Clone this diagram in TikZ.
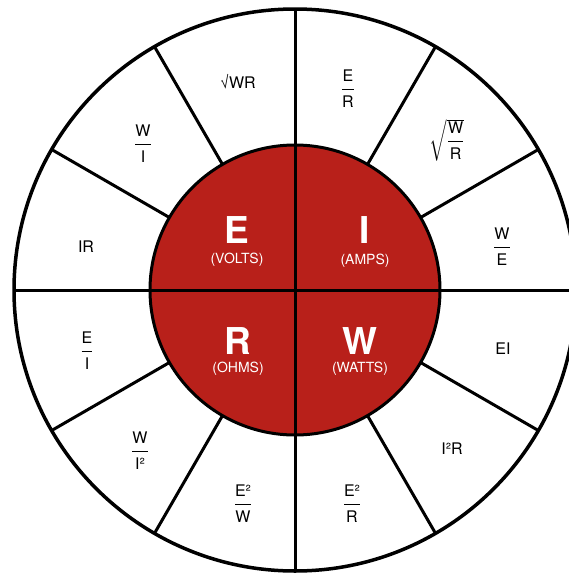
\documentclass[tikz,border=0pt]{standalone}
\usepackage{amsmath}
\usepackage{fontspec}
\usetikzlibrary{calc}
\setmainfont{TeX Gyre Heros}
\definecolor{ohmred}{RGB}{184,32,26}
\newcommand\frbody[2]{\genfrac{}{}{1.2pt}{0}{\text{#1}\rule[-3pt]{0pt}{3pt}}{\rule{0pt}{14.5pt}\text{#2}}}
\newcommand\fr[2]{$\frbody{#1}{#2}$}
\tikzset{
  ring/.style={line width=3pt, black},
  big/.style={text=white, font=\fontsize{37}{40}\selectfont\bfseries, inner sep=0pt, anchor=base},
  unit/.style={text=white, font=\fontsize{14}{16}\selectfont, inner sep=0pt, anchor=base},
  lab/.style={text=black, font=\fontsize{16}{18}\selectfont, inner sep=0pt}
}
\begin{document}
\begin{tikzpicture}[x=1pt,y=-1pt]
\useasboundingbox (0,0) rectangle (569,574);
\fill[white] (0,0) rectangle (569,574);
\clip (0,0) rectangle (569,574);
\coordinate (c) at (295,290);
\fill[ohmred] (c) circle[radius=145];
\draw[line width=3.5pt] (c) circle[radius=281];
\draw[ring] (c) circle[radius=145];
\foreach \a in {30,60,120,150,210,240,300,330}
  \draw[ring] ($(c)+(\a:145)$) -- ($(c)+(\a:281)$);
\draw[ring] ($(c)+(-281,0)$) -- ($(c)+(290,0)$);
\draw[ring] ($(c)+(0,-281)$) -- ($(c)+(0,281)$);
% centre
\node[big] (E) at (237,243) {E};
\node[unit] (Eu) at (237,263.5) {(VOLTS)};
\node[big] (I) at (365,243) {I};
\node[unit] (Iu) at (365,264.5) {(AMPS)};
\node[big] (R) at (238,354) {R};
\node[unit] (Ru) at (238,372) {(OHMS)};
\node[big] (W) at (360,354) {W};
\node[unit] (Wu) at (360,372) {(WATTS)};
% ring labels
\node[lab] (l1) at (238,82) {√WR};
\node[lab] (l2) at (143,144) {\fr{W}{I}};
\node[lab] (l3) at (86,247) {IR};
\node[lab] (l4) at (348,89) {\fr{E}{R}};
\node[lab] (l5) at (447,140) {$\sqrt{\frbody{W}{R}}$};
\node[lab] (l6) at (502,247) {\fr{W}{E}};
\node[lab] (l7) at (87,351) {\fr{E}{I}};
\node[lab] (l8) at (140,451) {\fr{W}{I²}};
\node[lab] (l9) at (243,504) {\fr{E²}{W}};
\node[lab] (l10) at (503,349) {EI};
\node[lab] (l11) at (452,449) {I²R};
\node[lab] (l12) at (352,504) {\fr{E²}{R}};
\end{tikzpicture}
\end{document}
